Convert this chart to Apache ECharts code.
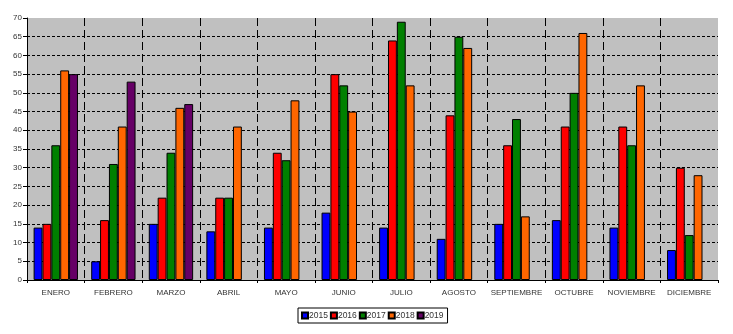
<!DOCTYPE html>
<html><head><meta charset="utf-8">
<script src="https://cdn.jsdelivr.net/npm/echarts@6/dist/echarts.min.js"></script>
<style>html,body{margin:0;padding:0;background:#fff}#c{width:733px;height:334px}</style>
</head><body><div id="c"></div>
<script>
const months = ['ENERO','FEBRERO','MARZO','ABRIL','MAYO','JUNIO','JULIO','AGOSTO','SEPTIEMBRE','OCTUBRE','NOVIEMBRE','DICIEMBRE'];
const years = ['2015','2016','2017','2018','2019'];
const v2015 = [14, 5, 15, 13, 14, 18, 14, 11, 15, 16, 14, 8];
const v2016 = [15, 16, 22, 22, 34, 55, 64, 44, 36, 41, 41, 30];
const v2017 = [36, 31, 34, 22, 32, 52, 69, 65, 43, 50, 36, 12];
const v2018 = [56, 41, 46, 41, 48, 45, 52, 62, 17, 66, 52, 28];
const v2019 = [55, 53, 47, null, null, null, null, null, null, null, null, null];
const colors = ['#0000FF','#FF0000','#008000','#FF6600','#660066'];
const values = [v2015, v2016, v2017, v2018, v2019];
const font = 'Liberation Sans, Arial, sans-serif';
const chart = echarts.init(document.getElementById('c'));
chart.setOption({
  animation: false,
  backgroundColor: '#fff',
  grid: {left: 27, right: 15, top: 18, bottom: 54, show: true, backgroundColor: '#C0C0C0', borderWidth: 0},
  legend: {
    bottom: 11, left: 298, data: years,
    itemWidth: 6, itemHeight: 6, itemGap: 2,
    borderColor: '#000', borderWidth: 1, padding: [3, 4, 3, 3], backgroundColor: '#fff',
    textStyle: {fontFamily: font, fontSize: 8.5, color: '#333', padding: [0, 0, 0, -4]},
    icon: 'rect'
  },
  xAxis: {
    type: 'category', data: months,
    axisLine: {lineStyle: {color: '#000', width: 1}},
    axisTick: {show: true, length: 3, lineStyle: {color: '#000'}},
    axisLabel: {fontFamily: font, fontSize: 8, color: '#333', margin: 9, interval: 0},
    splitLine: {show: true, showMinLine: false, showMaxLine: false, lineStyle: {color: '#000', type: [8, 4], width: 1}}
  },
  yAxis: {
    type: 'value', min: 0, max: 70, interval: 5,
    axisLine: {show: true, lineStyle: {color: '#000', width: 1}},
    axisTick: {show: true, length: 4, lineStyle: {color: '#000'}},
    axisLabel: {fontFamily: font, fontSize: 8, color: '#333', margin: 5},
    splitLine: {show: true, showMinLine: false, showMaxLine: false, lineStyle: {color: '#000', type: [3, 2], width: 1}}
  },
  series: years.map((y, i) => ({
    name: y, type: 'bar', data: values[i],
    barGap: '0%', barCategoryGap: '23%',
    itemStyle: {color: colors[i], borderColor: '#000', borderWidth: 1}
  }))
});
</script></body></html>
